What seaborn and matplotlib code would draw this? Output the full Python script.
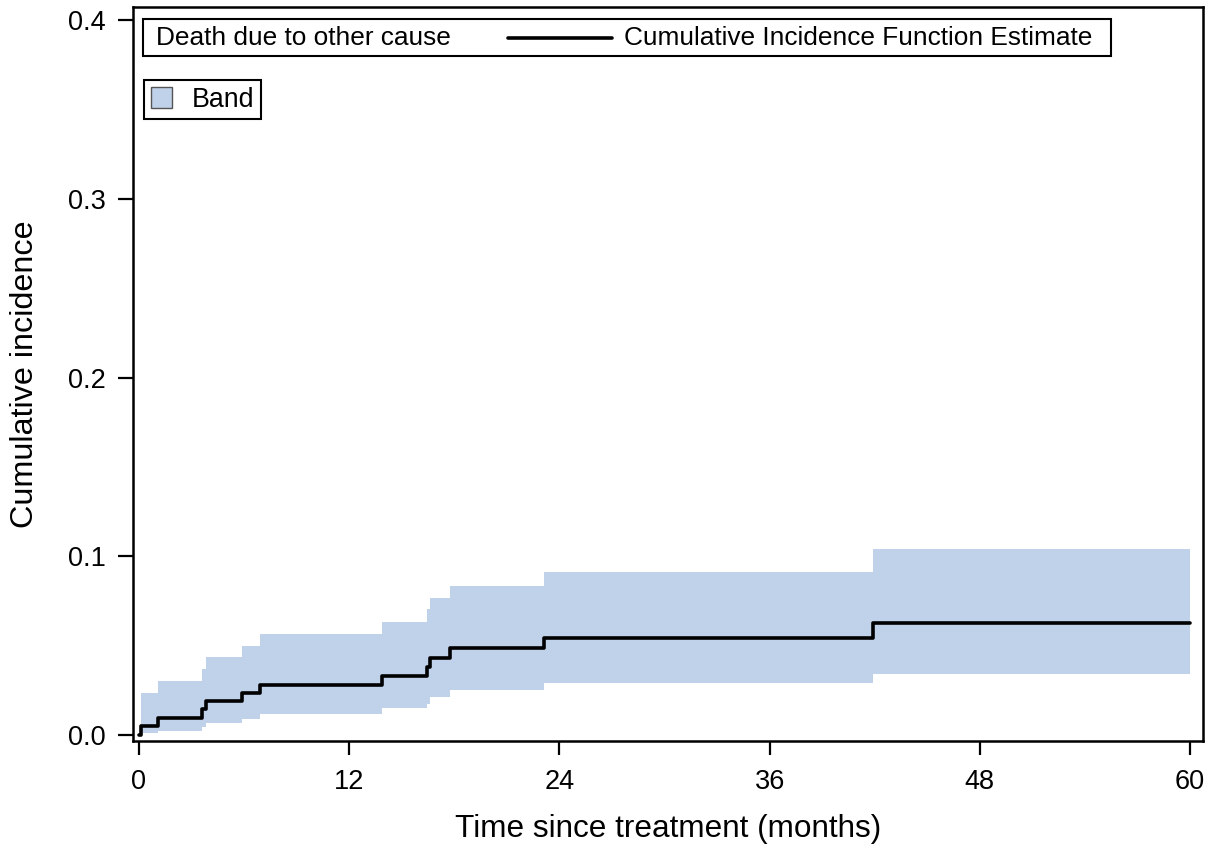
import numpy as np
import pandas as pd
import matplotlib
matplotlib.use("Agg")
import matplotlib.pyplot as plt
import seaborn as sns
from matplotlib.patches import Patch
from matplotlib.lines import Line2D
from matplotlib.offsetbox import AnchoredOffsetbox, HPacker, TextArea, DrawingArea

# ---- data ----
times = [0.0, 0.1, 1.1, 3.6, 3.85, 5.9, 6.9, 13.85, 16.45, 16.6, 17.75, 23.1, 41.9, 60.0]
cif = [0.0, 0.0050, 0.0097, 0.0144, 0.0188, 0.0236, 0.0281, 0.0330, 0.0380, 0.0430,
       0.0484, 0.0540, 0.0624, 0.0624]
band_times = [0.1, 1.1, 3.6, 3.85, 5.9, 6.9, 13.85, 16.45, 16.6, 17.75, 23.1, 41.9, 60.0]
band_upper = [0.0236, 0.0300, 0.0367, 0.0434, 0.0497, 0.0563, 0.0631, 0.0705, 0.0767,
              0.0834, 0.0912, 0.1039, 0.1039]
band_lower = [0.0009, 0.0024, 0.0043, 0.0069, 0.0089, 0.0119, 0.0149, 0.0175, 0.0215,
              0.0251, 0.0289, 0.0339, 0.0339]
xticks = [0, 12, 24, 36, 48, 60]
yticks = [0.0, 0.1, 0.2, 0.3, 0.4]

sns.set_style("ticks")
plt.rcParams['font.family'] = ['Liberation Sans', 'DejaVu Sans']
plt.rcParams['text.color'] = 'black'
plt.rcParams['axes.labelcolor'] = 'black'

BAND = '#c0d1ea'
W, H = 1222, 848
fig = plt.figure(figsize=(W / 100, H / 100), dpi=100)
L, R, T, B = 133, 1203, 7, 741
ax = fig.add_axes([L / W, 1 - B / H, (R - L) / W, (B - T) / H])

ax.fill_between(band_times, band_lower, band_upper, step='post', color=BAND, lw=0)
df = pd.DataFrame({'t': times, 'cif': cif})
sns.lineplot(data=df, x='t', y='cif', drawstyle='steps-post', color='black', lw=2.6,
             estimator=None, ax=ax)

# axes limits mapping: x=0 at px 139, x=60 at px 1190; y=0 at px 735, y=0.4 at px 20
xs = (1190 - 139) / 60.0
ax.set_xlim(-(139 - L) / xs, 60 + (R - 1190) / xs)
ys = (735 - 20) / 0.4
ax.set_ylim(-(B - 735) / ys, 0.4 + (20 - T) / ys)

ax.set_xticks(xticks)
ax.set_xticklabels([str(v) for v in xticks])
ax.set_yticks(yticks)
ax.set_yticklabels([f"{v:.1f}" for v in yticks])
ax.tick_params(axis='both', direction='out', width=1.6, labelsize=19.5,
               color='black', labelcolor='black')
ax.tick_params(axis='x', length=10, pad=10)
ax.tick_params(axis='y', length=11, pad=8.5)
for s in ax.spines.values():
    s.set_visible(True)
    s.set_linewidth(1.8)
    s.set_color('black')

ax.set_xlabel("Time since treatment (months)", fontsize=22.7, labelpad=14, color='black')
ax.set_ylabel("Cumulative incidence", fontsize=23.3, labelpad=20, color='black')

# ---- first legend: horizontal, with text label, line sample, line label ----
fs = 18.9
tp = dict(fontsize=fs, color='black', family=['Liberation Sans', 'DejaVu Sans'])
def spacer(wpx):
    return DrawingArea(wpx * 0.72, 10)
da = DrawingArea(104 * 0.72, 10)
da.add_artist(Line2D([0, 104 * 0.72], [5, 5], color='black', lw=2.6))
box = HPacker(children=[spacer(6), TextArea("Death due to other cause", textprops=tp),
                        spacer(58), da, spacer(12),
                        TextArea("Cumulative Incidence Function Estimate", textprops=tp),
                        spacer(12)],
              sep=0, pad=0, align='center')
ab = AnchoredOffsetbox(loc='upper left', child=box, pad=0.25, borderpad=0,
                       frameon=True, prop=dict(size=fs),
                       bbox_to_anchor=((143 - L) / (R - L), (B - 19) / (B - T)),
                       bbox_transform=ax.transAxes)
ab.patch.set_boxstyle('square', pad=0)
ab.patch.set_edgecolor('black')
ab.patch.set_linewidth(1.5)
ax.add_artist(ab)

# ---- second legend: Band ----
leg = ax.legend(handles=[Patch(facecolor=BAND, edgecolor='#555555', lw=1.0)], labels=['Band'],
                loc='upper left', bbox_to_anchor=((144 - L) / (R - L), (B - 80) / (B - T)),
                borderaxespad=0, frameon=True, fancybox=False, framealpha=1,
                edgecolor='black', fontsize=19.3, handlelength=0.8, handleheight=0.8,
                borderpad=0.25, handletextpad=0.75)
leg.get_frame().set_linewidth(1.5)

fig.savefig("out.png", dpi=100)
